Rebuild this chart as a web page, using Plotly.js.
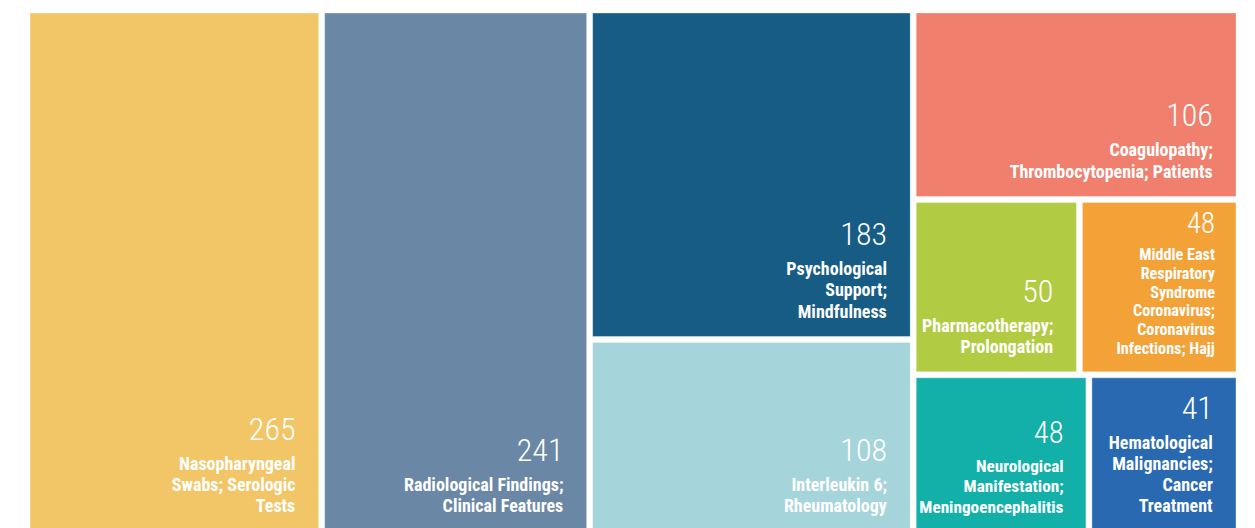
<!DOCTYPE html>
<html><head><meta charset="utf-8">
<script src="https://cdn.plot.ly/plotly-3.0.1.min.js"></script>
<style>html,body{margin:0;padding:0;overflow:hidden;background:#fff}#chart{width:1255px;height:531px}</style>
</head><body><div id="chart"></div>
<script>
// ---- data ----
const topics = [
  "Nasopharyngeal<br>Swabs; Serologic<br>Tests",
  "Radiological Findings;<br>Clinical Features",
  "Psychological<br>Support;<br>Mindfulness",
  "Interleukin 6;<br>Rheumatology",
  "Coagulopathy;<br>Thrombocytopenia; Patients",
  "Pharmacotherapy;<br>Prolongation",
  "Middle East<br>Respiratory<br>Syndrome<br>Coronavirus;<br>Coronavirus<br>Infections; Hajj",
  "Neurological<br>Manifestation;<br>Meningoencephalitis",
  "Hematological<br>Malignancies;<br>Cancer<br>Treatment"
];
const counts = [265, 241, 183, 108, 106, 50, 48, 48, 41];
const tileColors = ["#F2C667", "#6A87A6", "#165C84", "#A6D4DB", "#F07F6E", "#B1CC43", "#F2A237", "#12B0A8", "#2869B1"];
// hierarchy: group each topic belongs to ("root" = top level)
const topicGroup = ["root", "root", "g1", "g1", "g2", "g3", "g3", "g4", "g4"];
const groupIds = ["g1", "g2", "g3", "g4"];
const groupParents = ["root", "root", "g2", "g2"];

// ---- build treemap ----
const NB = "\u00A0";
const PADR = NB + NB + NB + NB + NB;
const LABEL_STYLE = "font-family:Roboto;font-stretch:condensed;font-size:18px;font-weight:bold";
const NUM_STYLE = "font-family:Roboto;font-stretch:condensed;font-weight:300;font-size:32px;baseline-shift:9px";
const BOTTOM_PAD = '<span style="font-size:1px;baseline-shift:-16px">' + NB + '</span>';
function tileText(i) {
  const lines = topics[i].split("<br>").map(l =>
    '<span style="' + LABEL_STYLE + '">' + l + '</span>' + PADR);
  return '<span style="' + NUM_STYLE + '">' + counts[i] + '</span>' + PADR + '<br>' +
    lines.join("<br>") + BOTTOM_PAD;
}

const ids = ["root"], labels = [""], parents = [""], values = [0], colors = ["#ffffff"],
      texts = [""], lineW = [0], lineC = ["#ffffff"];
topics.forEach((t, i) => {
  ids.push("t" + i); labels.push(t.replace(/<br>/g, " ")); parents.push(topicGroup[i]);
  values.push(counts[i]); colors.push(tileColors[i]); texts.push(tileText(i));
  lineW.push(1); lineC.push("rgba(255,255,255,0.35)");
});
groupIds.forEach((g, j) => {
  ids.push(g); labels.push(""); parents.push(groupParents[j]); values.push(0);
  colors.push("#ffffff"); texts.push(""); lineW.push(0); lineC.push("#ffffff");
});

const trace = {
  type: "treemap",
  ids: ids, labels: labels, parents: parents, values: values,
  branchvalues: "remainder",
  sort: false,
  text: texts,
  texttemplate: "%{text}",
  textposition: "bottom right",
  textfont: {family: "Roboto", size: 16.25, color: "#ffffff"},
  marker: {colors: colors, line: {width: lineW, color: lineC}, pad: {t: 0, l: 0, r: 0, b: 0}, depthfade: false},
  leaf: {opacity: 1},
  tiling: {packing: "slice-dice", pad: 6},
  pathbar: {visible: false},
  hoverinfo: "none",
  domain: {x: [30 / 1255, 1236 / 1255], y: [0, 1 - 13 / 531]}
};

Plotly.newPlot("chart", [trace], {
  width: 1255, height: 531,
  margin: {l: 0, r: 0, t: 0, b: 0},
  paper_bgcolor: "#ffffff",
  showlegend: false
}, {displayModeBar: false, staticPlot: true});
</script>
</body></html>
